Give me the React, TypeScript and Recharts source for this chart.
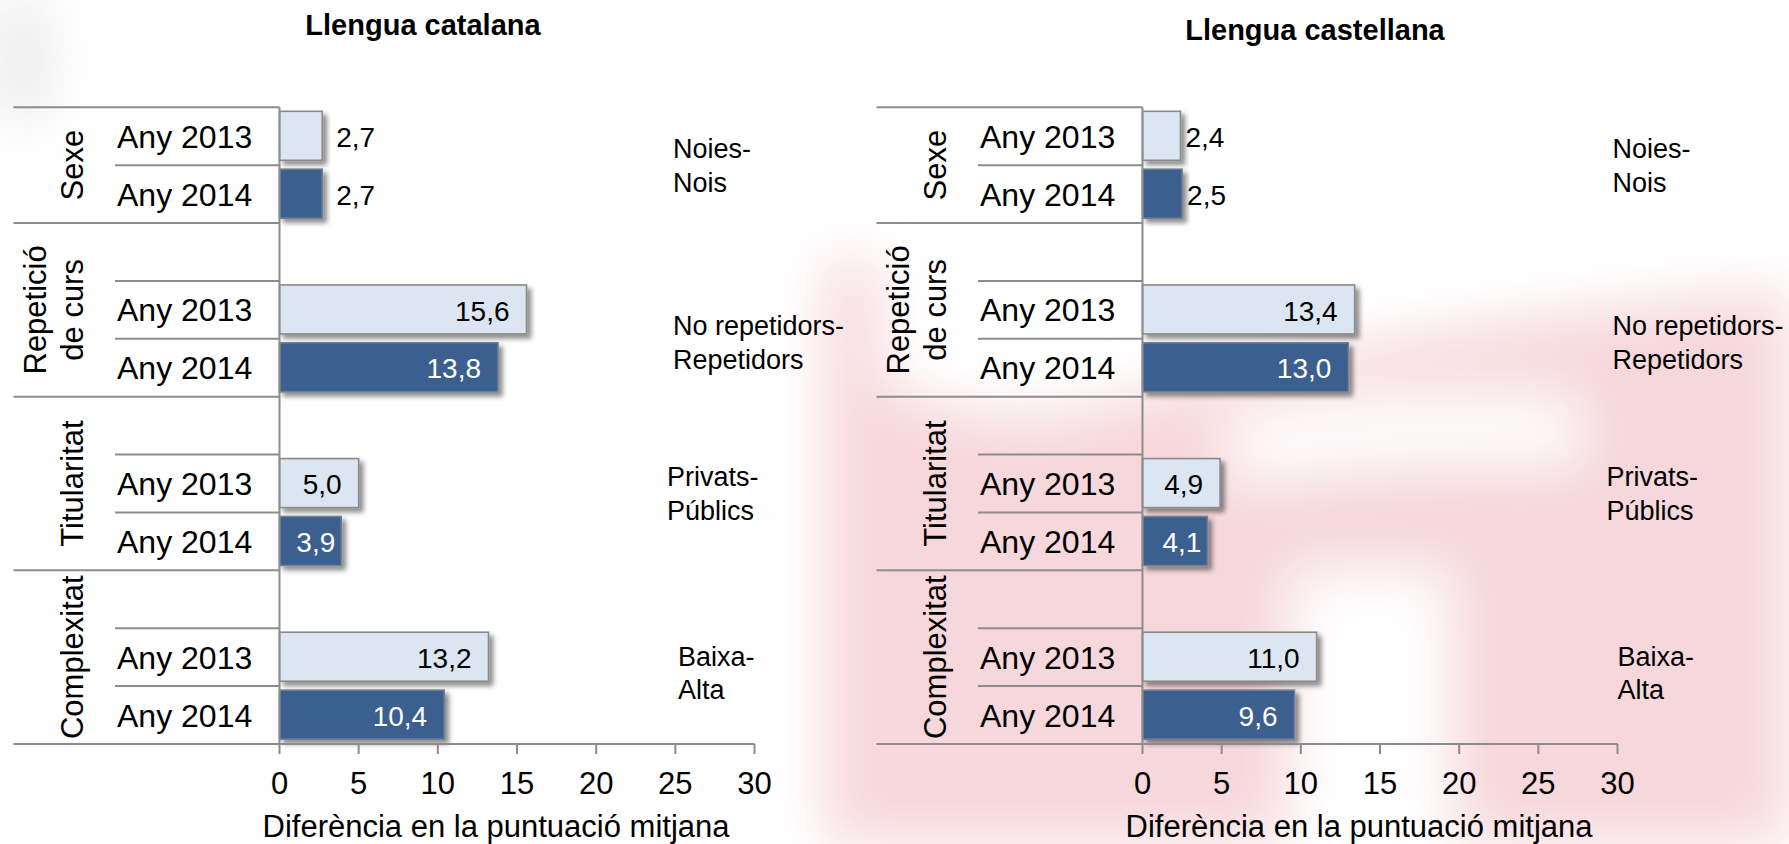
import React from "react";
import { Bar, BarChart, XAxis, YAxis } from "recharts";

// rows of the multi-level category axis (top to bottom)
const rowKeys = ["s13", "s14", "r00", "r13", "r14", "t00", "t13", "t14", "c00", "c13", "c14"];
const rowLabels = ["Any 2013", "Any 2014", "", "Any 2013", "Any 2014", "", "Any 2013", "Any 2014", "", "Any 2013", "Any 2014"];
const rowYears = [2013, 2014, 0, 2013, 2014, 0, 2013, 2014, 0, 2013, 2014];

const catalanValues = [2.7, 2.7, null, 15.6, 13.8, null, 5.0, 3.9, null, 13.2, 10.4];
const castilianValues = [2.4, 2.5, null, 13.4, 13.0, null, 4.9, 4.1, null, 11.0, 9.6];

const groupNames = [["Sexe"], ["Repetició", "de curs"], ["Titularitat"], ["Complexitat"]];
const groupStarts = [0, 2, 5, 8];
const groupEnds = [1, 4, 7, 10];
const contrastNames = [
  ["Noies-", "Nois"],
  ["No repetidors-", "Repetidors"],
  ["Privats-", "Públics"],
  ["Baixa-", "Alta"],
];

const xTicks = [0, 5, 10, 15, 20, 25, 30];
const xTitle = "Diferència en la puntuació mitjana";
const titles = ["Llengua catalana", "Llengua castellana"];

// layout
const H = 844;
const PANEL_LEFT = 13.5;
const Y_W = 266;
const AXIS_X = PANEL_LEFT + Y_W;
const PLOT_TOP = 107.3;
const PLOT_BOTTOM = 744;
const PLOT_W = 475;
const ROW_H = (PLOT_BOTTOM - PLOT_TOP) / rowKeys.length;
const noteDx = [0, 0, -6, 5];
const noteDy = [-6.8, -3.6, -26.3, -20.5];

const FONT = "'Liberation Sans', Arial, Helvetica, sans-serif";
const LINE = "#8c8c8c";
const LIGHT = "#dce6f2";
const DARK = "#3a5f8f";
const PINK = "#eeb0b8";

const rowTop = (i: number) => PLOT_TOP + i * ROW_H;

function CategoryTick(props: any) {
  const { payload, noteX } = props;
  const i = rowKeys.indexOf(payload.value);
  if (i < 0) return null;
  const top = rowTop(i);
  const g = groupStarts.indexOf(i);
  const e = groupEnds.indexOf(i);
  const items: React.ReactNode[] = [];

  items.push(
    <line key="top" x1={g >= 0 ? PANEL_LEFT : PANEL_LEFT + 101.5} x2={AXIS_X} y1={top} y2={top} stroke={LINE} strokeWidth={2} />
  );
  if (i === rowKeys.length - 1) {
    items.push(<line key="bottom" x1={PANEL_LEFT} x2={AXIS_X} y1={top + ROW_H} y2={top + ROW_H} stroke={LINE} strokeWidth={2} />);
  }
  if (rowLabels[i]) {
    items.push(
      <text key="lab" x={PANEL_LEFT + 103.5} y={top + ROW_H / 2} dy="0.36em" fontSize={32} fill="#000">
        {rowLabels[i]}
      </text>
    );
  }
  if (g >= 0) {
    const lines = groupNames[g];
    const cy = (rowTop(groupStarts[g]) + rowTop(groupEnds[g] + 1)) / 2;
    lines.forEach((ln, k) => {
      const bx = PANEL_LEFT + 69.5 - (lines.length - 1 - k) * 37;
      items.push(
        <text key={"g" + k} transform={`translate(${bx},${cy}) rotate(-90)`} textAnchor="middle" fontSize={31} fill="#000">
          {ln}
        </text>
      );
    });
  }
  if (e >= 0) {
    const b = top + noteDy[e];
    contrastNames[e].forEach((ln, k) => {
      items.push(
        <text key={"n" + k} x={noteX + noteDx[e]} y={b + k * 33.5} fontSize={27} fill="#000">
          {ln}
        </text>
      );
    });
  }
  return <g>{items}</g>;
}

function BarShape(props: any) {
  const { x, y, width, height, payload, outsideGap } = props;
  if (payload == null || payload.value == null || !width) return null;
  const dark = payload.year === 2014;
  const txt = payload.value.toFixed(1).replace(".", ",");
  const outside = payload.value < 3;
  const tx = outside ? x + width + outsideGap : x + width - (width < 70 ? 6 : 17);
  return (
    <g>
      <rect
        x={x}
        y={y}
        width={width}
        height={height}
        fill={dark ? DARK : LIGHT}
        stroke={dark ? "#6f7f93" : "#8a8a8a"}
        strokeWidth={1.6}
        filter="url(#barShadow)"
      />
      <text
        x={tx}
        y={y + height / 2 + 1}
        dy="0.36em"
        textAnchor={outside ? "start" : "end"}
        fontSize={28}
        fill={dark && !outside ? "#ffffff" : "#000000"}
      >
        {txt}
      </text>
    </g>
  );
}

function Panel({ values, left, width, noteX, outsideGap }: { values: (number | null)[]; left: number; width: number; noteX: number; outsideGap: number }) {
  const data = rowKeys.map((key, i) => ({ key, year: rowYears[i], value: values[i] }));
  return (
    <div style={{ position: "absolute", left, top: 0 }}>
      <BarChart
        width={width}
        height={H}
        data={data}
        layout="vertical"
        margin={{ top: PLOT_TOP, right: width - AXIS_X - PLOT_W, bottom: 0, left: PANEL_LEFT }}
        style={{ overflow: "visible" }}
      >
        <XAxis
          type="number"
          domain={[0, 30]}
          ticks={xTicks}
          interval={0}
          height={H - PLOT_BOTTOM}
          tickSize={10}
          tickMargin={18}
          tick={{ fill: "#000", fontSize: 31 }}
          axisLine={{ stroke: LINE, strokeWidth: 2 }}
          tickLine={{ stroke: LINE, strokeWidth: 2 }}
          label={() => (
            <text x={AXIS_X - 17} y={837} fontSize={31} fill="#000">
              {xTitle}
            </text>
          )}
        />
        <YAxis
          type="category"
          dataKey="key"
          width={Y_W}
          interval={0}
          tickLine={false}
          axisLine={{ stroke: LINE, strokeWidth: 2 }}
          tick={(p: any) => <CategoryTick {...p} noteX={noteX} />}
        />
        <Bar
          dataKey="value"
          barSize={49}
          isAnimationActive={false}
          shape={(p: any) => <BarShape {...p} outsideGap={outsideGap} />}
        />
      </BarChart>
    </div>
  );
}

export default function App() {
  return (
    <div style={{ position: "absolute", left: 0, top: 0, width: 1789, height: H, background: "#fff", overflow: "hidden", fontFamily: FONT }}>
      <svg width={1789} height={H} style={{ position: "absolute", left: 0, top: 0 }}>
        <defs>
          <filter id="barShadow" x="-10%" y="-20%" width="130%" height="160%">
            <feDropShadow dx={4} dy={4} stdDeviation={2.5} floodColor="#000" floodOpacity={0.45} />
          </filter>
          <filter id="wmBlur" x="-40%" y="-40%" width="180%" height="180%">
            <feGaussianBlur stdDeviation={28} />
          </filter>
        </defs>
        <g filter="url(#wmBlur)" opacity={0.5}>
          <path d="M 880 844 L 880 380 Q 990 440 1120 400 Q 1420 320 1789 290 L 1789 844 Z" fill={PINK} />
          <path d="M 1230 415 Q 1400 385 1580 400 L 1580 465 Q 1400 455 1230 485 Z" fill="#fff" />
          <rect x={1290} y={570} width={160} height={300} fill="#fff" />
          <rect x={825} y={260} width={55} height={584} fill={PINK} />
          <rect x={0} y={0} width={45} height={120} fill="#cfcfcf" />
        </g>
        <text x={423} y={35} textAnchor="middle" fontSize={29} fontWeight="bold" fill="#000">
          {titles[0]}
        </text>
        <text x={1315} y={40} textAnchor="middle" fontSize={29} fontWeight="bold" fill="#000">
          {titles[1]}
        </text>
      </svg>
      <Panel values={catalanValues} left={0} width={862} noteX={673} outsideGap={14} />
      <Panel values={castilianValues} left={862.5} width={926.5} noteX={749.5} outsideGap={5} />
    </div>
  );
}
